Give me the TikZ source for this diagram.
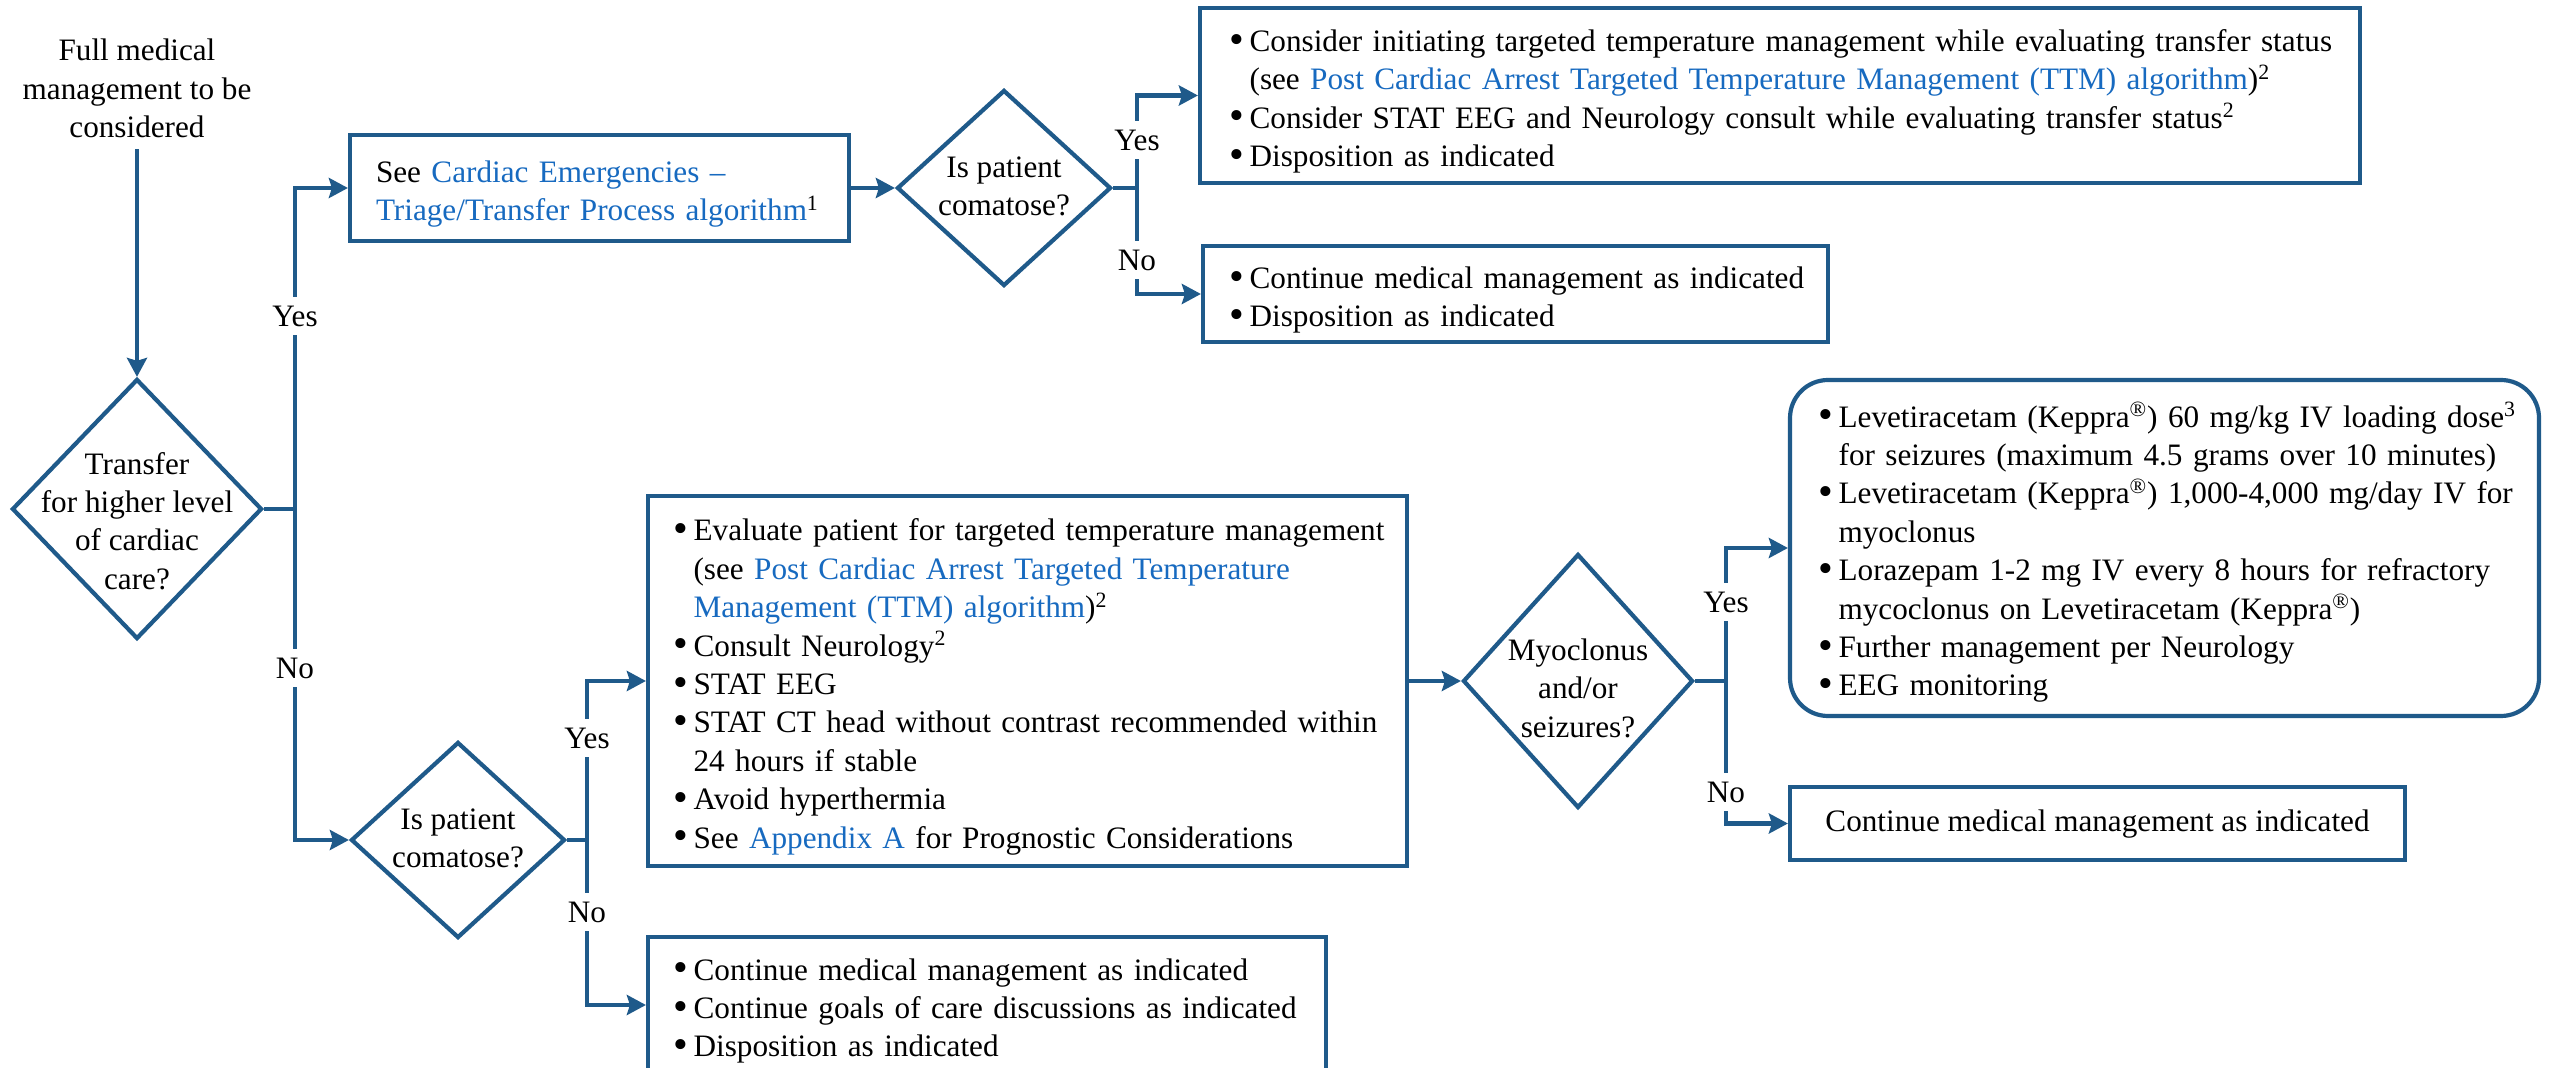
\documentclass[tikz,border=0pt]{standalone}
\usepackage{fontspec}
\usepackage{graphicx}
\setmainfont{Liberation Serif}
\usetikzlibrary{arrows.meta,shapes.geometric}
\definecolor{lineblue}{HTML}{1F5A8A}
\definecolor{linkblue}{RGB}{23,106,192}
\newcommand\lnk[1]{\textcolor{linkblue}{#1}}
\newcommand\sups[1]{\textsuperscript{#1}}
\newcommand\bul{\raisebox{-0.9pt}{\scalebox{1.35}{\textbullet}}}
\newcommand\tline[1]{\par\noindent\strut\mbox{#1}}
\newcommand\bitem[1]{\par\noindent\strut\makebox[9.6pt][l]{\hspace*{-0.6pt}\bul}\mbox{#1}}
\newcommand\citem[1]{\par\noindent\strut\hspace*{9.6pt}\mbox{#1}}
\tikzset{
  txt/.style={font=\fontsize{15.6}{19.2}\selectfont},
  box/.style={draw=lineblue, line width=2.1pt, rectangle, inner ysep=0pt, txt, align=left},
  dia/.style={draw=lineblue, line width=2.1pt, diamond, inner sep=0pt},
  dtext/.style={txt, align=center, inner sep=0pt},
  conn/.style={draw=lineblue, line width=2.1pt},
  arr/.style={conn, -{Stealth[length=9.5pt, width=10pt, inset=1.5pt]}},
  lbl/.style={txt, fill=white, inner xsep=1pt, inner ysep=4.5pt},
}
\begin{document}
\begin{tikzpicture}[x=0.5pt,y=-0.5pt]
\useasboundingbox (0,0) rectangle (2556,1068);
\clip (0,0) rectangle (2556,1068);
\fill[white] (0,0) rectangle (2556,1068);

% start text
\node[dtext] (start) at (137,91.5) {\strut Full medical\\\strut management to be\\\strut considered};

% diamond 1
\node[dia, minimum width=125pt, minimum height=130pt] (d1) at (137,509) {};
\node[dtext] (t1) at (137,524) {\strut Transfer\\\strut for higher level\\\strut of cardiac\\\strut care?};
\coordinate (j1) at (295,509);

% box A
\node[box, minimum width=249.5pt, minimum height=53pt, inner xsep=13pt, text width=223.5pt] (bA) at (599.5,188)
 {\tline{See \lnk{Cardiac Emergencies –}}\tline{\lnk{Triage/Transfer Process algorithm}\sups{1}}};

% diamond top comatose
\node[dia, minimum width=107pt, minimum height=98pt] (d2t) at (1004,188) {};
\node[dtext] (t2t) at (1004,189) {\strut Is patient\\\strut comatose?};
\coordinate (j2) at (1137,188);

% box B
\node[box, minimum width=580pt, minimum height=87.5pt, inner xsep=15.2pt, text width=549.6pt] (bB) at (1780,95.5)
 {\bitem{Consider initiating targeted temperature management while evaluating transfer status}%
  \citem{(see \lnk{Post Cardiac Arrest Targeted Temperature Management (TTM) algorithm})\sups{2}}%
  \bitem{Consider STAT EEG and Neurology consult while evaluating transfer status\sups{2}}%
  \bitem{Disposition as indicated}};

% box C
\node[box, minimum width=312.5pt, minimum height=48pt, inner xsep=13.7pt, text width=285.1pt] (bC) at (1515.5,294)
 {\bitem{Continue medical management as indicated}\bitem{Disposition as indicated}};

% diamond bottom comatose
\node[dia, minimum width=107pt, minimum height=98pt] (d2b) at (458,840) {};
\node[dtext] (t2b) at (458,841) {\strut Is patient\\\strut comatose?};
\coordinate (j3) at (587,840);

% box D
\node[box, minimum width=379.5pt, minimum height=185pt, inner xsep=13.2pt, text width=353.1pt] (bD) at (1027.5,681)
 {\bitem{Evaluate patient for targeted temperature management}%
  \citem{(see \lnk{Post Cardiac Arrest Targeted Temperature}}%
  \citem{\lnk{Management (TTM) algorithm})\sups{2}}%
  \bitem{Consult Neurology\sups{2}}%
  \bitem{STAT EEG}%
  \bitem{STAT CT head without contrast recommended within}%
  \citem{24 hours if stable}%
  \bitem{Avoid hyperthermia}%
  \bitem{See \lnk{Appendix A} for Prognostic Considerations}};

% box E
\node[box, minimum width=339pt, minimum height=68pt, inner xsep=13.2pt, text width=312.6pt] (bE) at (987,1005)
 {\bitem{Continue medical management as indicated}%
  \bitem{Continue goals of care discussions as indicated}%
  \bitem{Disposition as indicated}};

% diamond myoclonus
\node[dia, minimum width=115pt, minimum height=127pt] (d3) at (1578,681) {};
\node[dtext] (t3) at (1578,691) {\strut Myoclonus\\\strut and/or\\\strut seizures?};
\coordinate (j4) at (1726,681);

% box F
\node[box, rounded corners=19pt, minimum width=374.5pt, minimum height=168pt, inner xsep=14.7pt, text width=345.1pt] (bF) at (2164.5,548)
 {\bitem{Levetiracetam (Keppra\sups{®}) 60 mg/kg IV loading dose\sups{3}}%
  \citem{for seizures (maximum 4.5 grams over 10 minutes)}%
  \bitem{Levetiracetam (Keppra\sups{®}) 1,000-4,000 mg/day IV for}%
  \citem{myoclonus}%
  \bitem{Lorazepam 1-2 mg IV every 8 hours for refractory}%
  \citem{mycoclonus on Levetiracetam (Keppra\sups{®})}%
  \bitem{Further management per Neurology}%
  \bitem{EEG monitoring}};

% box G
\node[box, align=center, minimum width=307.5pt, minimum height=36.5pt] (bG) at (2097.5,823.5)
 {\strut Continue medical management as indicated};

% connectors
\draw[arr] (start.south) -- (d1.north);
\draw[conn] (d1.east) -- (j1);
\draw[arr] (j1) |- (bA.west);
\draw[arr] (j1) |- (d2b.west);
\draw[arr] (bA.east) -- (d2t.west);
\draw[conn] (d2t.east) -- (j2);
\draw[arr] (j2) |- (bB.west);
\draw[arr] (j2) |- (bC.west);
\draw[conn] (d2b.east) -- (j3);
\draw[arr] (j3) |- (bD.west);
\draw[arr] (j3) |- (bE.west);
\draw[arr] (bD.east) -- (d3.west);
\draw[conn] (d3.east) -- (j4);
\draw[arr] (j4) |- (bF.west);
\draw[arr] (j4) |- (bG.west);

% labels
\node[lbl] (ly1) at (295,316) {Yes};
\node[lbl] (ln1) at (295,668) {No};
\node[lbl] (ly2) at (1137,140) {Yes};
\node[lbl] (ln2) at (1137,260) {No};
\node[lbl] (ly3) at (587,738) {Yes};
\node[lbl] (ln3) at (587,912) {No};
\node[lbl] (ly4) at (1726,602) {Yes};
\node[lbl] (ln4) at (1726,792) {No};
\end{tikzpicture}
\end{document}
